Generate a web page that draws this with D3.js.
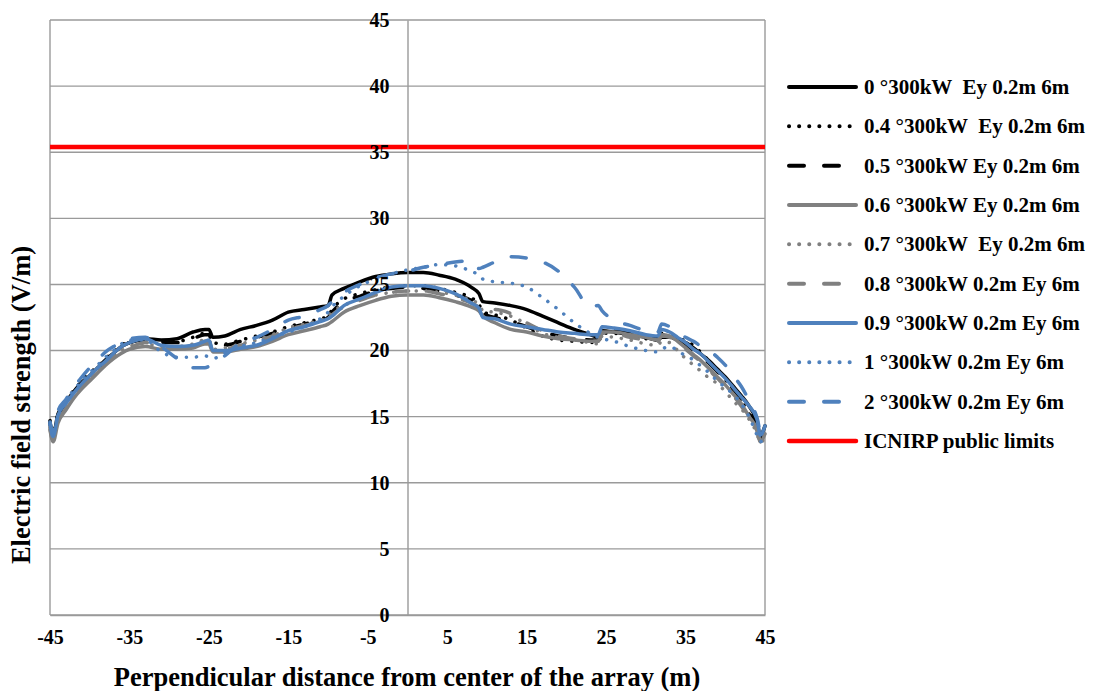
<!DOCTYPE html>
<html>
<head>
<meta charset="utf-8">
<script src="https://cdn.jsdelivr.net/npm/d3@7"></script>
<style>
  html, body { margin: 0; padding: 0; background: #fff; }
  svg { display: block; }
  text { font-family: "Liberation Serif", "Times New Roman", serif; font-weight: bold; fill: #000; }
</style>
</head>
<body>
<svg id="chart" width="1098" height="691"></svg>
<script>
// Perpendicular distance from the array centre (m)
const distance = [-45, -44.6, -44, -43, -42, -41, -40, -39, -38, -37, -36, -35,
  -33, -31, -29, -27, -25.5, -25, -24.5, -23, -21, -19, -17, -15, -13, -11,
  -10, -9.5, -8, -6, -4, -2, 0, 2, 4, 6, 8, 9, 9.5,
  11, 13, 15, 17, 19, 21, 23, 24, 24.5, 26, 28, 30, 31.5, 32, 33,
  34, 35, 36, 37, 38, 39, 40, 41, 42, 43, 44, 44.4, 45];

// Electric field strength Ey (V/m) for each steering angle
const ey0deg = [14.6, 13.6, 15.2, 16.1, 16.9, 17.6, 18.1, 18.7, 19.2, 19.8, 20.3, 20.6,
  20.9, 20.8, 20.9, 21.4, 21.6, 21.6, 21.0, 21.1, 21.6, 21.9, 22.3, 22.9, 23.1, 23.3,
  23.4, 24.2, 24.7, 25.2, 25.6, 25.8, 25.9, 25.9, 25.7, 25.4, 24.8, 24.3, 23.7,
  23.6, 23.4, 23.1, 22.6, 22.1, 21.6, 21.2, 21.0, 21.5, 21.4, 21.2, 21.0, 20.8, 21.0, 21.0,
  20.8, 20.6, 20.2, 19.7, 19.2, 18.6, 18.0, 17.3, 16.6, 15.8, 14.6, 13.6, 14.3];

const ey04deg = [14.7, 13.7, 15.3, 16.2, 17.0, 17.7, 18.3, 18.8, 19.4, 19.9, 20.4, 20.7,
  20.9, 20.7, 20.7, 21.0, 21.3, 21.3, 20.6, 20.5, 20.8, 21.1, 21.4, 21.8, 22.1, 22.4,
  22.6, 23.1, 23.9, 24.3, 24.6, 24.8, 24.9, 24.9, 24.7, 24.4, 24.0, 23.5, 22.9,
  22.7, 22.3, 21.7, 21.1, 20.8, 20.7, 20.6, 20.6, 21.3, 21.3, 21.1, 20.9, 20.8, 21.2, 21.1,
  21.0, 20.7, 20.4, 19.8, 19.2, 18.5, 17.8, 17.0, 16.2, 15.2, 14.1, 13.3, 13.9];

const ey05deg = [14.5, 13.4, 15.0, 16.0, 16.8, 17.5, 18.1, 18.7, 19.3, 19.8, 20.2, 20.6,
  20.8, 20.6, 20.6, 20.9, 21.2, 21.2, 20.5, 20.4, 20.7, 21.0, 21.3, 21.7, 22.0, 22.3,
  22.5, 22.9, 23.7, 24.1, 24.5, 24.7, 24.8, 24.7, 24.5, 24.2, 23.8, 23.3, 22.8,
  22.5, 22.2, 21.8, 21.4, 21.1, 20.9, 20.8, 20.8, 21.5, 21.5, 21.3, 21.0, 20.9, 21.3, 21.2,
  20.9, 20.5, 20.0, 19.5, 19.0, 18.4, 17.8, 17.1, 16.3, 15.4, 14.3, 13.4, 14.0];

const ey06deg = [14.0, 13.1, 14.5, 15.5, 16.4, 17.1, 17.7, 18.3, 18.9, 19.4, 19.8, 20.1,
  20.3, 20.1, 20.1, 20.2, 20.5, 20.5, 19.9, 19.9, 20.1, 20.3, 20.7, 21.2, 21.5, 21.8,
  22.0, 22.2, 22.9, 23.4, 23.8, 24.1, 24.2, 24.2, 24.0, 23.7, 23.3, 23.0, 22.6,
  22.1, 21.6, 21.4, 21.1, 20.9, 20.8, 20.7, 20.7, 21.4, 21.4, 21.2, 21.0, 20.8, 21.2, 21.1,
  20.7, 20.2, 19.7, 19.2, 18.6, 18.0, 17.4, 16.7, 16.0, 15.0, 14.0, 13.1, 13.7];

const ey07deg = [14.2, 13.2, 14.7, 15.7, 16.6, 17.3, 17.9, 18.5, 19.1, 19.6, 20.0, 20.3,
  20.5, 20.3, 20.3, 20.5, 20.8, 20.8, 20.1, 20.2, 20.5, 20.8, 21.2, 21.7, 22.0, 22.3,
  22.5, 22.9, 23.4, 23.9, 24.2, 24.4, 24.5, 24.5, 24.4, 24.2, 23.8, 23.5, 23.0,
  22.9, 22.6, 22.0, 21.3, 21.0, 20.8, 20.6, 20.5, 21.1, 21.0, 20.8, 20.5, 20.4, 20.7, 20.6,
  20.0, 19.4, 18.9, 18.4, 17.9, 17.5, 16.9, 16.2, 15.6, 14.8, 13.7, 13.0, 13.5];

const ey08deg = [14.1, 13.2, 14.6, 15.6, 16.5, 17.2, 17.8, 18.4, 19.0, 19.5, 19.9, 20.2,
  20.6, 20.3, 20.3, 20.4, 20.7, 20.7, 20.0, 20.1, 20.4, 20.7, 21.1, 21.6, 21.9, 22.2,
  22.4, 22.7, 23.3, 23.8, 24.2, 24.4, 24.5, 24.5, 24.3, 24.0, 23.6, 23.3, 23.1,
  23.1, 22.8, 22.1, 21.5, 21.1, 20.9, 20.7, 20.7, 21.3, 21.3, 21.0, 20.8, 20.7, 21.1, 21.0,
  20.6, 20.1, 19.6, 19.1, 18.5, 17.9, 17.3, 16.6, 15.8, 14.9, 13.9, 13.1, 13.6];

const ey09deg = [14.5, 13.5, 15.1, 16.0, 16.8, 17.5, 18.1, 18.7, 19.2, 19.8, 20.3, 20.6,
  20.9, 20.4, 20.3, 20.4, 20.7, 20.8, 20.0, 20.0, 20.2, 20.4, 20.9, 21.5, 21.8, 22.2,
  22.4, 22.6, 23.4, 23.9, 24.4, 24.8, 24.9, 24.9, 24.7, 24.3, 23.6, 23.2, 22.5,
  22.4, 22.0, 21.8, 21.6, 21.4, 21.3, 21.2, 21.2, 21.8, 21.7, 21.5, 21.2, 21.1, 21.6, 21.4,
  21.0, 20.6, 20.1, 19.7, 19.1, 18.5, 17.9, 17.2, 16.5, 15.8, 14.8, 13.6, 14.3];

const ey1deg = [14.4, 13.5, 15.2, 16.2, 17.0, 17.7, 18.3, 18.9, 19.5, 20.0, 20.5, 20.8,
  20.8, 19.9, 19.5, 19.5, 19.6, 19.5, 19.4, 19.8, 20.3, 20.6, 21.0, 21.4, 21.8, 22.4,
  22.9, 23.3, 24.1, 24.9, 25.4, 25.8, 26.1, 26.3, 26.5, 26.4, 26.0, 25.7, 25.4,
  25.2, 25.1, 24.8, 24.0, 23.1, 22.1, 21.3, 21.0, 20.9, 20.7, 20.3, 20.0, 19.9, 20.1, 20.3,
  20.0, 19.6, 19.3, 18.8, 18.3, 17.7, 17.2, 16.7, 16.0, 15.0, 13.6, 13.1, 13.6];

const ey2deg = [14.6, 13.8, 15.4, 16.3, 17.2, 18.0, 18.7, 19.3, 19.9, 20.3, 20.6, 20.9,
  21.0, 20.3, 19.4, 18.7, 18.7, 18.8, 19.0, 19.6, 20.6, 21.0, 21.6, 22.3, 22.6, 23.1,
  23.4, 23.7, 24.4, 25.0, 25.5, 25.8, 26.0, 26.3, 26.5, 26.7, 26.8, 26.2, 26.3,
  26.7, 27.1, 27.0, 26.7, 26.0, 24.8, 23.3, 23.4, 23.0, 22.3, 21.9, 21.5, 21.4, 22.0, 21.8,
  21.4, 21.0, 20.7, 20.3, 20.0, 19.5, 18.9, 18.1, 17.3, 16.2, 14.9, 14.0, 14.3];

const seriesLabels = [
  "0 °300kW  Ey 0.2m 6m",
  "0.4 °300kW  Ey 0.2m 6m",
  "0.5 °300kW Ey 0.2m 6m",
  "0.6 °300kW Ey 0.2m 6m",
  "0.7 °300kW  Ey 0.2m 6m",
  "0.8 °300kW 0.2m Ey 6m",
  "0.9 °300kW 0.2m Ey 6m",
  "1 °300kW 0.2m Ey 6m",
  "2 °300kW 0.2m Ey 6m"
];
const limitLabel = "ICNIRP public limits";
const icnirpLimit = 35.4;

const xTickValues = [-45, -35, -25, -15, -5, 5, 15, 25, 35, 45];
const yTickValues = [0, 5, 10, 15, 20, 25, 30, 35, 40, 45];

const xTitle = "Perpendicular distance from center of the array (m)";
const yTitle = "Electric field strength (V/m)";

// ---- drawing ----
const seriesValues = [ey0deg, ey04deg, ey05deg, ey06deg, ey07deg, ey08deg, ey09deg, ey1deg, ey2deg];

const BLACK = "#000000", GREY = "#808080", BLUE = "#4f81bd", RED = "#ff0000";
const DOT = "0.1,10", DASH = "15,20";
const lineStyles = [
  { stroke: BLACK, dash: null },
  { stroke: BLACK, dash: DOT },
  { stroke: BLACK, dash: DASH },
  { stroke: GREY,  dash: null },
  { stroke: GREY,  dash: DOT },
  { stroke: GREY,  dash: DASH },
  { stroke: BLUE,  dash: null },
  { stroke: BLUE,  dash: DOT },
  { stroke: BLUE,  dash: DASH }
];

const plot = { left: 50, right: 765, top: 20, bottom: 615 };
const svg = d3.select("#chart");

const x = d3.scaleLinear().domain([-45, 45]).range([plot.left, plot.right]);
const y = d3.scaleLinear().domain([0, 45]).range([plot.bottom, plot.top]);

const GRID = "#9a9a9a";

// horizontal gridlines
svg.append("g")
  .selectAll("line")
  .data(yTickValues)
  .join("line")
  .attr("x1", plot.left).attr("x2", plot.right)
  .attr("y1", d => y(d)).attr("y2", d => y(d))
  .attr("stroke", GRID).attr("stroke-width", 1.4);

// plot-area side borders
svg.append("g")
  .selectAll("line")
  .data([plot.left, plot.right])
  .join("line")
  .attr("x1", d => d).attr("x2", d => d)
  .attr("y1", plot.top).attr("y2", plot.bottom)
  .attr("stroke", GRID).attr("stroke-width", 1.4);

// vertical axis through x = 0
const yAxisG = svg.append("g")
  .attr("transform", `translate(${x(0)},0)`)
  .call(d3.axisLeft(y).tickValues(yTickValues).tickFormat(String)
    .tickSize(0).tickSizeOuter(0).tickPadding(18));
yAxisG.select(".domain").attr("stroke", GRID).attr("stroke-width", 1.4);

// horizontal axis along y = 0
const xAxisG = svg.append("g")
  .attr("transform", `translate(0,${y(0)})`)
  .call(d3.axisBottom(x).tickValues(xTickValues).tickFormat(String)
    .tickSize(0).tickSizeOuter(0).tickPadding(15));
xAxisG.select(".domain").attr("stroke", GRID).attr("stroke-width", 1.4);

[yAxisG, xAxisG].forEach(g => g.selectAll(".tick text")
  .attr("font-family", '"Liberation Serif", "Times New Roman", serif')
  .attr("font-weight", "bold")
  .attr("font-size", 20)
  .attr("fill", "#000"));

// series lines
const line = d3.line()
  .x((d, i) => x(distance[i]))
  .y(d => y(d))
  .curve(d3.curveMonotoneX);

const seriesG = svg.append("g").attr("fill", "none");
seriesValues.forEach((vals, k) => {
  const st = lineStyles[k];
  seriesG.append("path")
    .datum(vals)
    .attr("d", line)
    .attr("stroke", st.stroke)
    .attr("stroke-width", 3.5)
    .attr("stroke-linecap", "round")
    .attr("stroke-linejoin", "round")
    .attr("stroke-dasharray", st.dash);
});

// ICNIRP reference level
svg.append("line")
  .attr("x1", x(-45)).attr("x2", x(45))
  .attr("y1", y(icnirpLimit)).attr("y2", y(icnirpLimit))
  .attr("stroke", RED).attr("stroke-width", 4.5);

// bring tick labels above the curves
yAxisG.raise();

// axis titles
svg.append("text")
  .attr("x", 407).attr("y", 686)
  .attr("text-anchor", "middle")
  .attr("font-size", 26.5)
  .text(xTitle);

svg.append("text")
  .attr("transform", "translate(30,405) rotate(-90)")
  .attr("text-anchor", "middle")
  .attr("font-size", 26.5)
  .text(yTitle);

// legend
const legendItems = seriesLabels.map((label, k) => ({ label, stroke: lineStyles[k].stroke, dash: lineStyles[k].dash, w: 4 }))
  .concat([{ label: limitLabel, stroke: RED, dash: null, w: 4.5 }]);

const legend = svg.append("g");
const rowY = k => 87 + k * 39.33;
legend.selectAll("line")
  .data(legendItems)
  .join("line")
  .attr("x1", 789).attr("x2", 856)
  .attr("y1", (d, k) => rowY(k)).attr("y2", (d, k) => rowY(k))
  .attr("stroke", d => d.stroke)
  .attr("stroke-width", d => d.w)
  .attr("stroke-linecap", "round")
  .attr("stroke-dasharray", d => d.dash);

legend.selectAll("text")
  .data(legendItems)
  .join("text")
  .attr("x", 864)
  .attr("y", (d, k) => rowY(k))
  .attr("dy", "0.34em")
  .attr("font-size", 21)
  .style("white-space", "pre")
  .text(d => d.label);
</script>
</body>
</html>
